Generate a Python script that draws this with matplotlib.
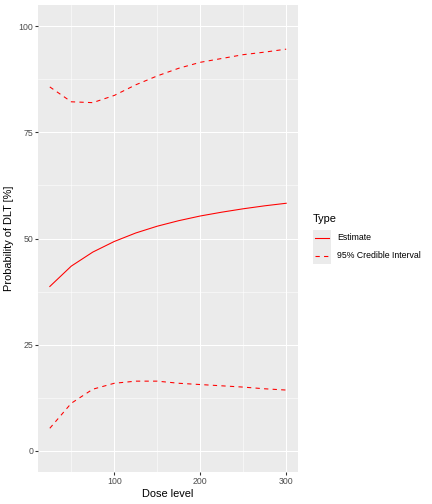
import matplotlib.pyplot as plt
from matplotlib.lines import Line2D
from matplotlib.patches import Rectangle

plt.rcParams['font.family'] = ['Liberation Sans', 'DejaVu Sans']

dose = [25, 50, 75, 100, 125, 150, 175, 200, 225, 250, 275, 300]
estimate = [38.7, 43.5, 46.8, 49.3, 51.3, 52.9, 54.2, 55.3, 56.2, 57.0, 57.7, 58.3]
upper = [85.7, 82.2, 82.0, 83.7, 86.2, 88.3, 90.1, 91.5, 92.4, 93.3, 93.9, 94.6]
lower = [5.3, 11.2, 14.5, 15.9, 16.4, 16.4, 15.9, 15.6, 15.3, 15.0, 14.6, 14.3]

labels = ["Estimate", "95% Credible Interval"]

W, H = 432, 504
fig = plt.figure(figsize=(6, 7), dpi=72)
ax = fig.add_axes([38 / W, 1 - 472 / H, 260 / W, 467 / H])
ax.set_facecolor("#EBEBEB")
for s in ax.spines.values():
    s.set_visible(False)

ax.set_xlim(11.25, 313.75)
ax.set_ylim(-5, 105)
ax.set_xticks([100, 200, 300])
ax.set_yticks([0, 25, 50, 75, 100])
ax.set_xticks([50, 150, 250], minor=True)
ax.set_yticks([12.5, 37.5, 62.5, 87.5], minor=True)
ax.grid(True, which="major", color="white", linewidth=1.07)
ax.grid(True, which="minor", color="white", linewidth=0.53)
ax.set_axisbelow(True)
ax.tick_params(which="major", length=2.75, width=1.07, color="#333333",
               labelsize=8.8, labelcolor="#4D4D4D", pad=2.2)
ax.tick_params(which="minor", length=0)

lw = 1.07
dash = (0, (4, 4))
ax.plot(dose, estimate, color="red", linewidth=lw)
ax.plot(dose, upper, color="red", linewidth=lw, linestyle=dash)
ax.plot(dose, lower, color="red", linewidth=lw, linestyle=dash)

ax.set_xlabel("Dose level", fontsize=11, labelpad=3)
ax.set_ylabel("Probability of DLT [%]", fontsize=11, labelpad=4)

# legend drawn by hand, ggplot style
fig.text(313 / W, 1 - 219 / H, "Type", fontsize=11, va="center", ha="left")
fig.add_artist(Rectangle((313 / W, 1 - 264 / H), 18 / W, 34 / H,
                         transform=fig.transFigure, facecolor="#EBEBEB",
                         edgecolor="none"))
fig.add_artist(Line2D([315 / W, 329 / W], [1 - 238 / H, 1 - 238 / H],
                      transform=fig.transFigure, color="#FF0000", linewidth=lw))
fig.add_artist(Line2D([315 / W, 329 / W], [1 - 256 / H, 1 - 256 / H],
                      transform=fig.transFigure, color="#FF0000", linewidth=lw,
                      linestyle=dash))
fig.text(337 / W, 1 - 238 / H, labels[0], fontsize=8.8, va="center", ha="left")
fig.text(337 / W, 1 - 256 / H, labels[1], fontsize=8.8, va="center", ha="left")

fig.savefig("out.png", dpi=72, facecolor="white")
